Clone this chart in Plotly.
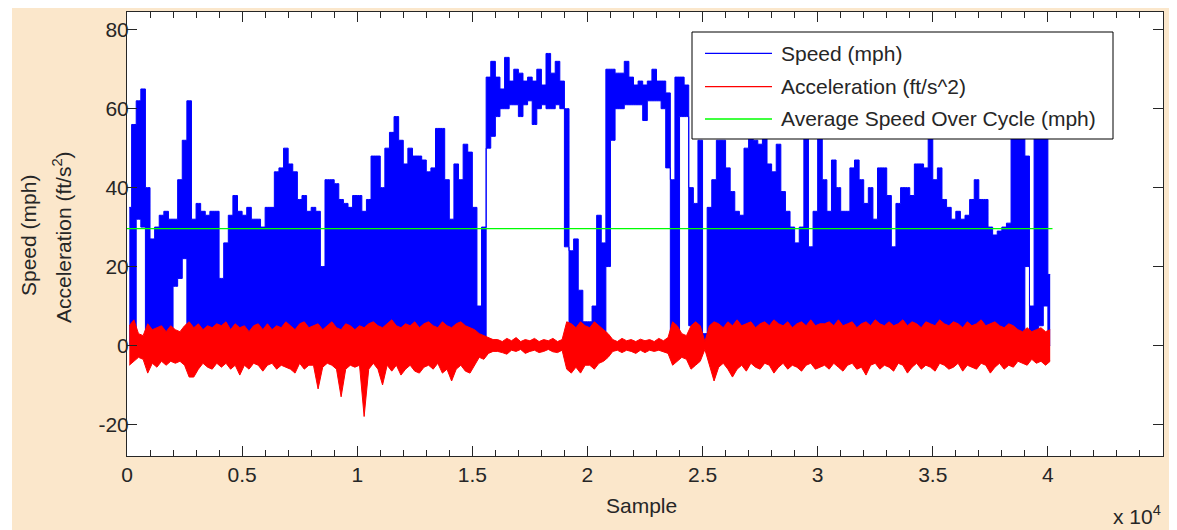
import plotly.graph_objects as go

# ---------------- data ----------------
block = 200                     # samples per block
n_samples = 40200
avg_speed = 29.6

speed_hi = [35, 56, 62, 65, 40, 27, 30, 33, 34, 32,
            32, 42, 52, 62, 32, 36, 34, 33, 34, 34,
            17, 26, 33, 38, 34, 33, 35, 32, 32, 30,
            35, 35, 44, 45, 50, 46, 44, 37, 38, 34,
            35, 34, 20, 42, 42, 41, 37, 36, 35, 38,
            38, 34, 37, 48, 48, 40, 50, 54, 58, 52,
            46, 50, 48, 48, 47, 44, 45, 55, 55, 42,
            32, 46, 42, 51, 49, 35, 10, 30, 68, 72,
            68, 65, 73, 67, 70, 69, 67, 68, 67, 70,
            66, 74, 69, 72, 67, 60, 24, 27, 14, 6,
            6, 10, 33, 26, 70, 70, 69, 69, 72, 68,
            66, 67, 66, 67, 70, 67, 67, 64, 42, 68,
            68, 66, 40, 36, 52, 3, 35, 42, 52, 52,
            45, 39, 34, 33, 50, 55, 52, 51, 55, 46,
            44, 51, 39, 34, 30, 26, 30, 55, 25, 34,
            55, 42, 34, 47, 40, 34, 34, 45, 47, 42,
            36, 40, 32, 45, 45, 38, 25, 36, 40, 40,
            38, 46, 46, 45, 55, 42, 45, 37, 35, 32,
            34, 32, 33, 37, 42, 37, 37, 30, 28, 29,
            30, 31, 55, 55, 55, 48, 10, 55, 55, 53,
            18]

speed_lo = [0, 0, 32, 30, 2, 0, 0, 0, 0, 0,
            15, 17, 22, 3, 0, 0, 0, 0, 0, 0,
            0, 0, 0, 0, 0, 0, 0, 0, 0, 0,
            0, 0, 0, 0, 0, 0, 0, 0, 0, 0,
            0, 0, 0, 0, 0, 0, 0, 0, 0, 0,
            0, 0, 0, 0, 0, 0, 0, 0, 0, 0,
            0, 0, 0, 0, 0, 0, 0, 0, 0, 0,
            0, 0, 0, 0, 0, 0, 0, 0, 50, 53,
            58, 60, 60, 61, 61, 58, 61, 62, 56, 60,
            61, 60, 60, 61, 60, 25, 0, 0, 0, 0,
            0, 0, 0, 0, 20, 52, 60, 60, 61, 61,
            61, 61, 57, 62, 62, 62, 60, 45, 2, 0,
            58, 58, 5, 0, 0, 0, 0, 0, 0, 0,
            0, 0, 0, 0, 0, 0, 0, 0, 0, 0,
            0, 0, 0, 0, 0, 0, 0, 0, 0, 0,
            0, 0, 0, 0, 0, 0, 0, 0, 0, 0,
            0, 0, 0, 0, 0, 0, 0, 0, 0, 0,
            0, 0, 0, 0, 0, 0, 0, 0, 0, 0,
            0, 0, 0, 0, 0, 0, 0, 0, 0, 0,
            0, 0, 0, 0, 0, 20, 0, 0, 5, 10,
            0]

accel_hi = [5, 6.5, 3, 2.5, 5.5, 4, 4.5, 5, 3.5, 5,
            4, 3.5, 5, 6, 4.5, 5.5, 4, 5, 4.5, 5.5,
            5, 6, 4, 5.5, 4.5, 5, 3.5, 5, 5.5, 4,
            5.5, 4, 5, 4.5, 6, 5, 4, 5.5, 6, 4.5,
            5, 5.5, 4, 5, 6, 4.5, 4, 5.5, 5, 4,
            5, 4.5, 5.5, 6, 5, 4.5, 5.5, 6.5, 5, 4.5,
            5.5, 5, 6, 4.5, 5.5, 6, 5, 4.5, 6, 5,
            4.5, 5.5, 6, 5, 4.5, 4, 3, 2.5, 2, 1.5,
            1.5, 1, 1.8, 1.2, 2, 1, 1.5, 1.2, 1.8, 1,
            1.5, 1.2, 1.8, 1, 1.5, 6, 5.5, 4.5, 6, 5,
            4.5, 6, 5, 4, 3, 1.5, 1, 1.8, 1.2, 1.5,
            1, 1.6, 1.2, 1.5, 1, 1.8, 1.2, 2, 6, 5,
            3, 2.5, 5, 6, 5, 1, 5, 6, 5.5, 4.5,
            6, 5, 6.5, 5, 5.5, 6, 4.5, 5.5, 6, 5,
            6.5, 5.5, 5, 6, 4.5, 5.5, 6, 5, 6.5, 5,
            5.5, 5.5, 6, 5, 6.5, 5, 5.5, 6, 4.5, 5.5,
            6, 5, 6.5, 5.5, 5, 6, 5, 5.5, 6.5, 5,
            6, 5.5, 4.5, 6, 5.5, 5, 6.5, 5.5, 5, 6,
            5.5, 4.5, 6, 5, 5.5, 6.5, 5, 5.5, 6, 5,
            4.5, 5.5, 5, 4, 3.5, 4.5, 3.5, 4, 4.5, 3.5,
            4]

accel_lo = [-5, -4, -3, -3.5, -7, -4.5, -5.5, -4, -5, -4,
            -4.5, -4, -5, -8, -8, -6, -4.5, -5.5, -6, -4.5,
            -5.5, -4.5, -6, -5, -7.5, -5, -6, -4.5, -5, -6.5,
            -5, -4.5, -6, -5, -5.5, -6, -7, -4.5, -6, -5,
            -5, -11, -5.5, -4.5, -5, -6, -13, -6, -5, -5.5,
            -5, -18, -6, -4.5, -6, -10, -5, -6.5, -5, -7.5,
            -6, -5, -6.5, -7, -5.5, -5, -6, -4.5, -7, -6,
            -9, -6, -5, -6.5, -7, -5, -3, -3.5, -2, -1.5,
            -1.5, -1.8, -2.2, -1.2, -1.5, -1, -2, -1.5, -1.2, -1.8,
            -1.5, -1, -1.6, -1.8, -1.2, -6, -7, -5.5, -7, -5,
            -5, -6, -4.5, -4, -3, -1.5, -1.2, -1.8, -1.2, -1.5,
            -2, -1.2, -1.8, -1.2, -1.5, -1.2, -1.6, -2, -5, -4,
            -3, -3.5, -6, -5, -4, -1, -5, -9, -5.5, -4.5,
            -6, -8, -6, -5, -6.5, -4.5, -5.5, -6, -4.5, -5,
            -7, -5.5, -4.5, -6, -5, -5.5, -6.5, -5, -4.5, -6,
            -5.5, -5, -6, -4.5, -5.5, -6.5, -5, -4.5, -6, -5.5,
            -7.5, -5, -4.5, -6, -5, -5.5, -6.5, -4.5, -5, -7,
            -5.5, -4.5, -6, -5, -5.5, -6.5, -4.5, -5, -6, -5.5,
            -4.5, -6.5, -5, -5.5, -6, -4.5, -5, -7, -5.5, -4.5,
            -6, -5, -5.5, -4, -4.5, -5, -3.5, -4.5, -4, -5,
            -4]

x_tick_vals = [0, 5000, 10000, 15000, 20000, 25000, 30000, 35000, 40000, 45000]
x_tick_text = ["0", "0.5", "1", "1.5", "2", "2.5", "3", "3.5", "4", "4.5"]
y_tick_vals = [-20, 0, 20, 40, 60, 80]
y_tick_text = ["-20", "0", "20", "40", "60", "80"]

legend_names = ["Speed (mph)", "Acceleration (ft/s^2)", "Average Speed Over Cycle (mph)"]
colors = ["#0000FF", "#FF0000", "#00FF00"]

# ---------------- figure ----------------
x_blk = [block * k + block / 2 for k in range(len(speed_hi))]

fig = go.Figure()
fig.add_trace(go.Scatter(x=x_blk, y=speed_lo, mode="lines",
                         line=dict(color=colors[0], width=1, shape="hvh"),
                         showlegend=False, hoverinfo="skip"))
fig.add_trace(go.Scatter(x=x_blk, y=speed_hi, mode="lines", name=legend_names[0],
                         line=dict(color=colors[0], width=1, shape="hvh"), fill="tonexty",
                         fillcolor=colors[0], showlegend=False))
fig.add_trace(go.Scatter(x=x_blk, y=accel_lo, mode="lines",
                         line=dict(color=colors[1], width=1),
                         showlegend=False, hoverinfo="skip"))
fig.add_trace(go.Scatter(x=x_blk, y=accel_hi, mode="lines", name=legend_names[1],
                         line=dict(color=colors[1], width=1), fill="tonexty",
                         fillcolor=colors[1], showlegend=False))
fig.add_trace(go.Scatter(x=[0, n_samples], y=[avg_speed, avg_speed], mode="lines",
                         name=legend_names[2], line=dict(color=colors[2], width=1.3),
                         showlegend=False))

OFF = 8                      # page body margin around the figure
W, H = 1177 - OFF, 530 - OFF
# plot area in page pixels: x 127..1163, y 12..456
ML, MT = 127 - OFF, 12 - OFF
MR = W - (1163 - OFF)
MB = H - (456 - OFF)
PW, PH = W - ML - MR, H - MT - MB


def px(xp):                  # page x pixel -> paper x
    return (xp - OFF - ML) / PW


def py(yp):                  # page y pixel -> paper y
    return (H - MB - (yp - OFF)) / PH


FONT = "Liberation Sans, Arial, Helvetica, sans-serif"
TXT = "#262626"

axis_common = dict(showgrid=False, zeroline=False, showline=True, linecolor=TXT, linewidth=1,
                   mirror="ticks", ticks="inside", ticklen=10, tickwidth=1, tickcolor=TXT,
                   tickfont=dict(family=FONT, size=21, color=TXT))

fig.update_layout(
    width=W, height=H,
    margin=dict(l=ML, r=MR, t=MT, b=MB),
    paper_bgcolor="#FBE7CB", plot_bgcolor="#FFFFFF",
    showlegend=False,
    xaxis=dict(range=[0, 45000], tickvals=x_tick_vals, ticktext=x_tick_text,
               minor=dict(ticks="inside", ticklen=6, dtick=1000, tick0=0, tickcolor=TXT),
               **axis_common),
    yaxis=dict(range=[-28, 84.5], tickvals=y_tick_vals, ticktext=y_tick_text,
               ticklabelstandoff=-7, **axis_common),
)

shapes = [
    dict(type="rect", xref="paper", yref="paper", x0=px(OFF), x1=px(12), y0=py(530), y1=py(OFF),
         fillcolor="#FFFFFF", line=dict(width=0), layer="below"),
    dict(type="rect", xref="paper", yref="paper", x0=px(692), x1=px(1113), y0=py(139), y1=py(32),
         fillcolor="#FFFFFF", line=dict(color="#000000", width=1), layer="above"),
]
legend_rows = [53.3, 86.7, 119]
annotations = []
for name, c, yr in zip(legend_names, colors, legend_rows):
    shapes.append(dict(type="line", xref="paper", yref="paper", x0=px(705), x1=px(772),
                       y0=py(yr), y1=py(yr), line=dict(color=c, width=1.3), layer="above"))
    annotations.append(dict(text=name, xref="paper", yref="paper", x=px(779), y=py(yr),
                            xanchor="left", yanchor="middle", showarrow=False,
                            font=dict(family=FONT, size=21, color=TXT)))

annotations += [
    dict(text="Sample", xref="paper", yref="paper", x=px(641), y=py(505), xanchor="center",
         yanchor="middle", showarrow=False, font=dict(family=FONT, size=21, color=TXT)),
    dict(text="x 10<sup>4</sup>", xref="paper", yref="paper", x=px(1111), y=py(515),
         xanchor="left", yanchor="middle", showarrow=False, font=dict(family=FONT, size=21, color=TXT)),
    dict(text="Speed (mph)", xref="paper", yref="paper", x=px(29), y=py(236), textangle=-90,
         xanchor="center", yanchor="middle", showarrow=False, font=dict(family=FONT, size=21, color=TXT)),
    dict(text="Acceleration (ft/s<sup>2</sup>)", xref="paper", yref="paper", x=px(62), y=py(237),
         textangle=-90, xanchor="center", yanchor="middle", showarrow=False,
         font=dict(family=FONT, size=21, color=TXT)),
]
fig.update_layout(shapes=shapes, annotations=annotations)

fig.write_html("out.html")
